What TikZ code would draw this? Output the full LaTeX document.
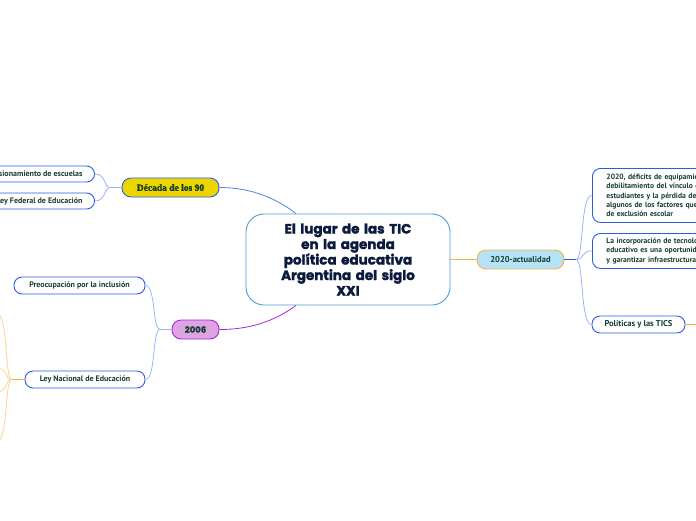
\documentclass[tikz,border=0pt]{standalone}
\usepackage{fontspec}
\setmainfont{PT Sans}
\newfontfamily\titlefont{Poppins}[BoldFont={* Bold}, BoldFeatures={FakeBold=2}]
\newfontfamily\slabfont{Liberation Serif}[BoldFeatures={FakeBold=2}]
\usepackage{tikz}

\definecolor{ink}{HTML}{163F2F}
\definecolor{navy}{HTML}{0B1A3D}
\definecolor{linkblue}{HTML}{4F7FF0}
\definecolor{paleblue}{HTML}{9DB5F5}
\definecolor{boxblue}{HTML}{2A5CE8}
\definecolor{rootblue}{HTML}{4A9AD6}
\definecolor{yel}{HTML}{EDD500}
\definecolor{lila}{HTML}{DDA3E3}
\definecolor{purp}{HTML}{A526E0}
\definecolor{sky}{HTML}{B5E2F6}
\definecolor{orng}{HTML}{F7B33F}
\definecolor{paleorng}{HTML}{FBD391}

\tikzset{
  leaf/.style={draw=boxblue, fill=white, line width=0.9pt, rounded corners=8pt,
    text=ink, font=\fontsize{8}{10}\selectfont\bfseries, inner ysep=3pt},
  topic/.style={line width=0.9pt, rounded corners=9pt, text=ink,
    minimum height=19pt, inner xsep=10pt},
  link/.style={line width=0.8pt}
}

\begin{document}
\begin{tikzpicture}[x=1pt,y=-1pt]
            \useasboundingbox (0,0) rectangle (696,520);
            \clip (0,0) rectangle (696,520);

            % centre
            \node[draw=rootblue, fill=white, line width=0.9pt, rounded corners=18pt,
              minimum width=204pt, minimum height=91pt, text width=190pt, align=center,
              text=navy, font=\titlefont\fontsize{13.5}{15.5}\selectfont\bfseries]
              (root) at (348,259.5) {El lugar de las TIC\\en la agenda\\pol\'itica educativa\\Argentina del siglo\\XXI};

            % main topics
            \node[topic, draw=boxblue, fill=yel, minimum width=97pt,
              font=\slabfont\fontsize{9.5}{11}\selectfont\bfseries] (d90) at (170.5,187.5) {D\'ecada de los 90};
            \node[topic, draw=purp, fill=lila, minimum width=47pt,
              font=\titlefont\fontsize{8.5}{10}\selectfont\bfseries] (y2006) at (195.5,329.5) {2006};
            \node[topic, draw=orng, fill=sky, minimum width=87pt,
              font=\fontsize{8.5}{10}\selectfont\bfseries] (y2020) at (520.5,259.5) {2020-actualidad};

            % leaves
            \node[leaf, anchor=east, inner xsep=12pt, minimum height=16pt] (esc) at (95,174) {isionamiento de escuelas};
            \node[leaf, anchor=east, inner xsep=12pt, minimum height=16pt] (lfe) at (95,201) {Ley Federal de Educaci\'on};
            \node[leaf, minimum width=131pt, minimum height=17pt] (incl) at (79.5,285.5) {Preocupaci\'on por la inclusi\'on};
            \node[leaf, minimum width=120pt, minimum height=17pt] (lne) at (85,379.5) {Ley Nacional de Educaci\'on};
            \node[leaf, anchor=north west, text width=110pt, align=left, inner xsep=14pt,
              minimum height=54pt, font=\fontsize{7.6}{9.3}\selectfont\bfseries] (def) at (592,168)
              {2020, d\'eficits de equipamie\\debilitamiento del v\'inculo e\\estudiantes y la p\'erdida de\\algunos de los factores que\\de exclusi\'on escolar};
            \node[leaf, anchor=north west, text width=110pt, align=left, inner xsep=14pt,
              minimum height=35pt, font=\fontsize{7.6}{9.3}\selectfont\bfseries] (inc) at (592,233)
              {La incorporaci\'on de tecnolo\\educativo es una oportunid\\y garantizar infraestructuras};
            \node[leaf, minimum width=93pt, minimum height=17pt, font=\fontsize{8.5}{10}\selectfont\bfseries] (pol) at (638.5,324.5) {Pol\'iticas y las TICS};

            \coordinate (j90) at (110,187.5);
            \coordinate (j06) at (160,329.5);
            \coordinate (j20) at (576,259.5);
            \coordinate (jln) at (12,379.5);
            \coordinate (out) at (700,324.5);

            % connectors from the centre
            \draw[link, linkblue] (root.north) ++(-52,0) coordinate (r1)
              .. controls (268,192) and (240,187.5) .. (d90.east);
            \draw[link, purp] (root.south) ++(-52,0) coordinate (r2)
              .. controls (268,326) and (240,329.5) .. (y2006.east);
            \draw[link, orng] (root.east) -- (y2020.west);

            % second level
            \draw[link, paleblue] (d90.west) -- (j90);
            \draw[link, paleblue] (j90) .. controls (104,187.5) and (106,174) .. (esc.east);
            \draw[link, paleblue] (j90) .. controls (104,187.5) and (106,201) .. (lfe.east);
            \draw[link, paleblue] (y2006.west) -- (j06);
            \draw[link, paleblue] (j06) .. controls (152,329.5) and (156,285.5) .. (incl.east);
            \draw[link, paleblue] (j06) .. controls (152,329.5) and (156,379.5) .. (lne.east);
            \draw[link, boxblue] (y2020.east) -- (j20);
            \draw[link, paleblue] (j20) .. controls (584,259.5) and (580,195) .. (def.west);
            \draw[link, paleblue] (j20) .. controls (584,259.5) and (582,250) .. (inc.west);
            \draw[link, paleblue] (j20) .. controls (584,259.5) and (580,324.5) .. (pol.west);

            % further branches
            \draw[link, orng] (lne.west) -- (jln);
            \draw[link, orng] (pol.east) -- (out);
            \foreach \yy in {313,368,392,442}{
                \draw[link, paleorng] (jln) .. controls (4,379.5) and (9,\yy) .. (-4,\yy);
            }
        \end{tikzpicture}
\end{document}
